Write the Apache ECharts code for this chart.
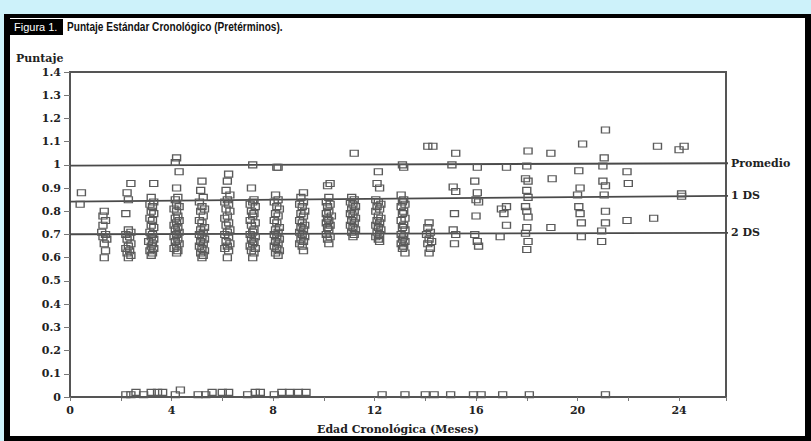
<!DOCTYPE html>
<html><head><meta charset="utf-8">
<script src="https://cdn.jsdelivr.net/npm/echarts@6/dist/echarts.min.js"></script>
<style>html,body{margin:0;padding:0;background:#cdf2fa}#c{width:811px;height:441px}</style>
</head><body><div id="c"></div>
<script>
// Tick labels / axis
const xTickLabels = [0, 4, 8, 12, 16, 20, 24];
const yTickMax = 1.4;
// Reference lines [age, score]
const lineNames = ['Promedio', '1 DS', '2 DS'];
const promedioLine = [[0, 0.997], [26.2, 1.007]];
const ds1Line = [[0, 0.842], [26.2, 0.867]];
const ds2Line = [[0, 0.701], [26.2, 0.707]];
// Scatter points [age (months), score]
const m0 = [[0.45,0.88],[0.4,0.83]];
const m1 = [[1.35,0.80],[1.3,0.78],[1.4,0.76],[1.3,0.74],[1.25,0.71],[1.4,0.70],[1.3,0.69],[1.45,0.68],[1.35,0.66],[1.4,0.63],[1.35,0.60]];
const m2 = [[2.4,0.92],[2.25,0.88],[2.3,0.85],[2.2,0.79],[2.3,0.72],[2.4,0.71],[2.2,0.70],[2.35,0.69],[2.25,0.68],[2.4,0.66],[2.3,0.65],[2.2,0.64],[2.35,0.63],[2.25,0.62],[2.4,0.61],[2.3,0.60]];
const m3 = [[3.3,0.92],[3.2,0.86],[3.3,0.84],[3.15,0.83],[3.25,0.82],[3.2,0.80],[3.3,0.79],[3.15,0.77],[3.25,0.76],[3.2,0.74],[3.3,0.73],[3.15,0.71],[3.25,0.70],[3.2,0.69],[3.3,0.68],[3.1,0.67],[3.25,0.66],[3.2,0.65],[3.3,0.64],[3.15,0.63],[3.25,0.62],[3.2,0.61]];
const m4 = [[4.2,1.03],[4.15,1.01],[4.3,0.97],[4.2,0.90],[4.25,0.86],[4.15,0.85],[4.2,0.83],[4.3,0.82],[4.1,0.81],[4.2,0.80],[4.25,0.78],[4.15,0.77],[4.3,0.76],[4.2,0.75],[4.1,0.74],[4.25,0.73],[4.15,0.72],[4.3,0.71],[4.2,0.70],[4.1,0.69],[4.25,0.68],[4.15,0.67],[4.3,0.66],[4.2,0.65],[4.1,0.64],[4.25,0.63],[4.2,0.62]];
const m5 = [[5.2,0.93],[5.15,0.89],[5.25,0.86],[5.1,0.84],[5.2,0.82],[5.3,0.81],[5.15,0.80],[5.25,0.78],[5.1,0.76],[5.2,0.75],[5.3,0.73],[5.15,0.72],[5.25,0.71],[5.1,0.70],[5.2,0.69],[5.3,0.68],[5.15,0.67],[5.25,0.66],[5.1,0.65],[5.2,0.64],[5.3,0.63],[5.15,0.62],[5.25,0.61],[5.2,0.60]];
const m6 = [[6.25,0.96],[6.2,0.93],[6.15,0.89],[6.3,0.87],[6.2,0.85],[6.1,0.84],[6.25,0.83],[6.15,0.81],[6.3,0.80],[6.2,0.78],[6.1,0.77],[6.25,0.75],[6.15,0.74],[6.3,0.72],[6.2,0.71],[6.1,0.70],[6.25,0.69],[6.15,0.67],[6.3,0.66],[6.2,0.65],[6.1,0.64],[6.25,0.63],[6.2,0.60]];
const m7 = [[7.2,1.0],[7.15,0.90],[7.25,0.85],[7.2,0.84],[7.1,0.83],[7.3,0.82],[7.15,0.80],[7.25,0.79],[7.2,0.78],[7.1,0.76],[7.3,0.75],[7.15,0.74],[7.25,0.72],[7.2,0.71],[7.1,0.70],[7.3,0.69],[7.15,0.68],[7.25,0.67],[7.2,0.66],[7.1,0.65],[7.3,0.64],[7.15,0.63],[7.25,0.62],[7.2,0.60]];
const m8 = [[8.15,0.99],[8.2,0.99],[8.1,0.87],[8.2,0.85],[8.05,0.84],[8.15,0.82],[8.25,0.81],[8.1,0.79],[8.2,0.78],[8.05,0.76],[8.15,0.75],[8.25,0.73],[8.1,0.72],[8.2,0.71],[8.05,0.70],[8.15,0.69],[8.25,0.68],[8.1,0.67],[8.2,0.66],[8.05,0.65],[8.15,0.64],[8.25,0.63],[8.1,0.62],[8.2,0.61]];
const m9 = [[9.2,0.88],[9.1,0.86],[9.2,0.84],[9.05,0.83],[9.15,0.82],[9.25,0.80],[9.1,0.79],[9.2,0.78],[9.05,0.76],[9.15,0.75],[9.25,0.74],[9.1,0.73],[9.2,0.72],[9.05,0.71],[9.15,0.70],[9.25,0.69],[9.1,0.68],[9.2,0.67],[9.05,0.66],[9.15,0.65],[9.2,0.63]];
const m10 = [[10.25,0.92],[10.15,0.91],[10.2,0.86],[10.1,0.84],[10.25,0.83],[10.15,0.82],[10.2,0.80],[10.1,0.79],[10.3,0.78],[10.15,0.77],[10.2,0.76],[10.1,0.75],[10.25,0.74],[10.15,0.73],[10.2,0.72],[10.1,0.70],[10.25,0.69],[10.15,0.68],[10.2,0.66]];
const m11 = [[11.2,1.05],[11.1,0.86],[11.2,0.85],[11.05,0.84],[11.15,0.83],[11.25,0.82],[11.1,0.81],[11.2,0.80],[11.05,0.79],[11.15,0.78],[11.25,0.77],[11.1,0.76],[11.2,0.75],[11.05,0.74],[11.15,0.73],[11.25,0.72],[11.1,0.71],[11.2,0.70],[11.15,0.69]];
const m12 = [[12.15,0.97],[12.1,0.92],[12.2,0.90],[12.05,0.85],[12.15,0.84],[12.25,0.83],[12.1,0.82],[12.2,0.81],[12.05,0.80],[12.15,0.78],[12.25,0.77],[12.1,0.76],[12.2,0.75],[12.05,0.74],[12.15,0.73],[12.25,0.72],[12.1,0.71],[12.2,0.70],[12.05,0.69],[12.15,0.68],[12.2,0.67]];
const m13 = [[13.1,1.00],[13.15,0.99],[13.05,0.87],[13.15,0.85],[13.1,0.84],[13.2,0.83],[13.05,0.82],[13.15,0.80],[13.1,0.79],[13.2,0.77],[13.05,0.76],[13.15,0.74],[13.1,0.73],[13.2,0.72],[13.05,0.70],[13.15,0.69],[13.1,0.68],[13.2,0.67],[13.05,0.66],[13.15,0.65],[13.1,0.64],[13.2,0.62]];
const m14 = [[14.1,1.08],[14.3,1.08],[14.15,0.75],[14.1,0.73],[14.2,0.71],[14.05,0.70],[14.15,0.68],[14.25,0.67],[14.1,0.66],[14.2,0.64],[14.15,0.62]];
const m15 = [[15.2,1.05],[15.05,1.00],[15.1,0.905],[15.2,0.885],[15.15,0.79],[15.1,0.72],[15.2,0.70],[15.15,0.66]];
const m16 = [[16.05,0.99],[15.95,0.93],[16.05,0.88],[16.0,0.85],[16.1,0.84],[16.0,0.78],[15.95,0.70],[16.05,0.67],[16.1,0.65]];
const m17 = [[17.2,0.99],[17.2,0.82],[17.0,0.81],[17.1,0.79],[17.2,0.74],[16.95,0.69]];
const m18 = [[18.05,1.06],[18.0,0.995],[17.95,0.94],[18.05,0.93],[18.0,0.89],[18.05,0.86],[17.95,0.82],[18.0,0.80],[18.05,0.775],[18.0,0.73],[17.95,0.705],[18.05,0.67],[18.0,0.635]];
const m19 = [[18.95,1.05],[19.0,0.94],[18.95,0.73]];
const m20 = [[20.2,1.09],[20.05,0.975],[20.1,0.90],[20.0,0.87],[20.05,0.82],[20.1,0.79],[20.15,0.75],[20.15,0.69]];
const m21 = [[21.1,1.15],[21.05,1.03],[21.0,0.995],[21.0,0.93],[21.1,0.91],[21.05,0.87],[21.1,0.80],[21.1,0.75],[20.95,0.715],[20.95,0.67]];
const m22 = [[21.95,0.97],[22.0,0.92],[21.95,0.76]];
const m23 = [[23.0,0.77],[23.15,1.08]];
const m24 = [[24.2,1.08],[24.0,1.065],[24.1,0.875],[24.1,0.865]];
const zeroRow = [[2.2,0.01],[2.4,0.01],[2.6,0.02],[2.9,0.01],[3.2,0.02],[3.45,0.02],[3.65,0.02],[4.15,0.01],[4.35,0.03],[5.05,0.01],[5.35,0.01],[5.6,0.02],[6.0,0.02],[6.25,0.02],[7.0,0.01],[7.3,0.02],[7.5,0.02],[8.05,0.01],[8.35,0.02],[8.65,0.02],[9.0,0.02],[9.3,0.02],[12.3,0.01],[13.2,0.01],[14.0,0.01],[14.35,0.01],[15.0,0.01],[15.9,0.01],[16.2,0.01],[17.05,0.01],[18.1,0.01],[21.1,0.01]];

const allPoints = [].concat(m0,m1,m2,m3,m4,m5,m6,m7,m8,m9,m10,m11,m12,m13,m14,m15,m16,m17,m18,m19,m20,m21,m22,m23,m24,zeroRow);

const serif = '"DejaVu Serif", serif';
const chart = echarts.init(document.getElementById('c'), null, {renderer: 'svg'});
const refLine = (name, data) => ({
  type: 'line', name, data, symbol: 'none', clip: false, silent: true,
  lineStyle: {color: '#4a4a4a', width: 1.8},
  endLabel: {show: true, formatter: '{a}', color: '#222', fontFamily: serif, fontWeight: 'bold', fontSize: 11, distance: 3},
  z: 3
});
chart.setOption({
  animation: false,
  backgroundColor: '#cdf2fa',
  graphic: [
    {type: 'rect', shape: {x: 4, y: 14, width: 807, height: 427}, style: {fill: '#000'}, z: -10},
    {type: 'rect', shape: {x: 10, y: 18, width: 795, height: 418}, style: {fill: '#fff'}, z: -9},
    {type: 'rect', shape: {x: 10, y: 19, width: 53, height: 16}, style: {fill: '#000'}, z: 1},
    {type: 'text', x: 14, y: 27, style: {text: 'Figura 1.', fill: '#fff', font: '11px "Liberation Sans", sans-serif', textVerticalAlign: 'middle'}, z: 2},
    {type: 'text', x: 67, y: 27, scaleX: 0.84, style: {text: 'Puntaje Estándar Cronológico (Pretérminos).', fill: '#111', font: 'bold 12px "Liberation Sans", sans-serif', textVerticalAlign: 'middle'}, z: 2},
    {type: 'text', x: 16, y: 58, style: {text: 'Puntaje', fill: '#222', font: 'bold 11px ' + serif, textVerticalAlign: 'middle'}, z: 2}
  ],
  grid: {left: 70, right: 85, top: 72, bottom: 44, show: true, borderColor: '#555', borderWidth: 2, backgroundColor: 'transparent'},
  xAxis: {
    type: 'value', min: 0, max: 25.85, interval: 2,
    name: 'Edad Cronológica (Meses)', nameLocation: 'middle', nameGap: 27,
    nameTextStyle: {color: '#222', fontFamily: serif, fontWeight: 'bold', fontSize: 11},
    axisLine: {lineStyle: {color: '#555', width: 2}},
    axisTick: {length: 4, lineStyle: {color: '#777'}},
    axisLabel: {color: '#222', fontFamily: serif, fontWeight: 'bold', fontSize: 11, margin: 8,
      formatter: v => xTickLabels.indexOf(v) >= 0 ? String(v) : ''},
    splitLine: {show: false}
  },
  yAxis: {
    type: 'value', min: 0, max: yTickMax, interval: 0.1,
    axisLine: {show: true, lineStyle: {color: '#555', width: 2}},
    axisTick: {show: true, length: 6, lineStyle: {color: '#777'}},
    axisLabel: {color: '#222', fontFamily: serif, fontWeight: 'bold', fontSize: 11, margin: 9,
      formatter: v => String(Math.round(v * 10) / 10)},
    splitLine: {show: false}
  },
  series: [
    refLine(lineNames[0], promedioLine),
    refLine(lineNames[1], ds1Line),
    refLine(lineNames[2], ds2Line),
    {
      type: 'scatter', data: allPoints, symbol: 'rect', symbolSize: [8, 6],
      itemStyle: {color: 'rgba(255,255,255,0)', borderColor: '#5a5a5a', borderWidth: 1.2, opacity: 1},
      z: 4
    }
  ]
});
</script></body></html>
